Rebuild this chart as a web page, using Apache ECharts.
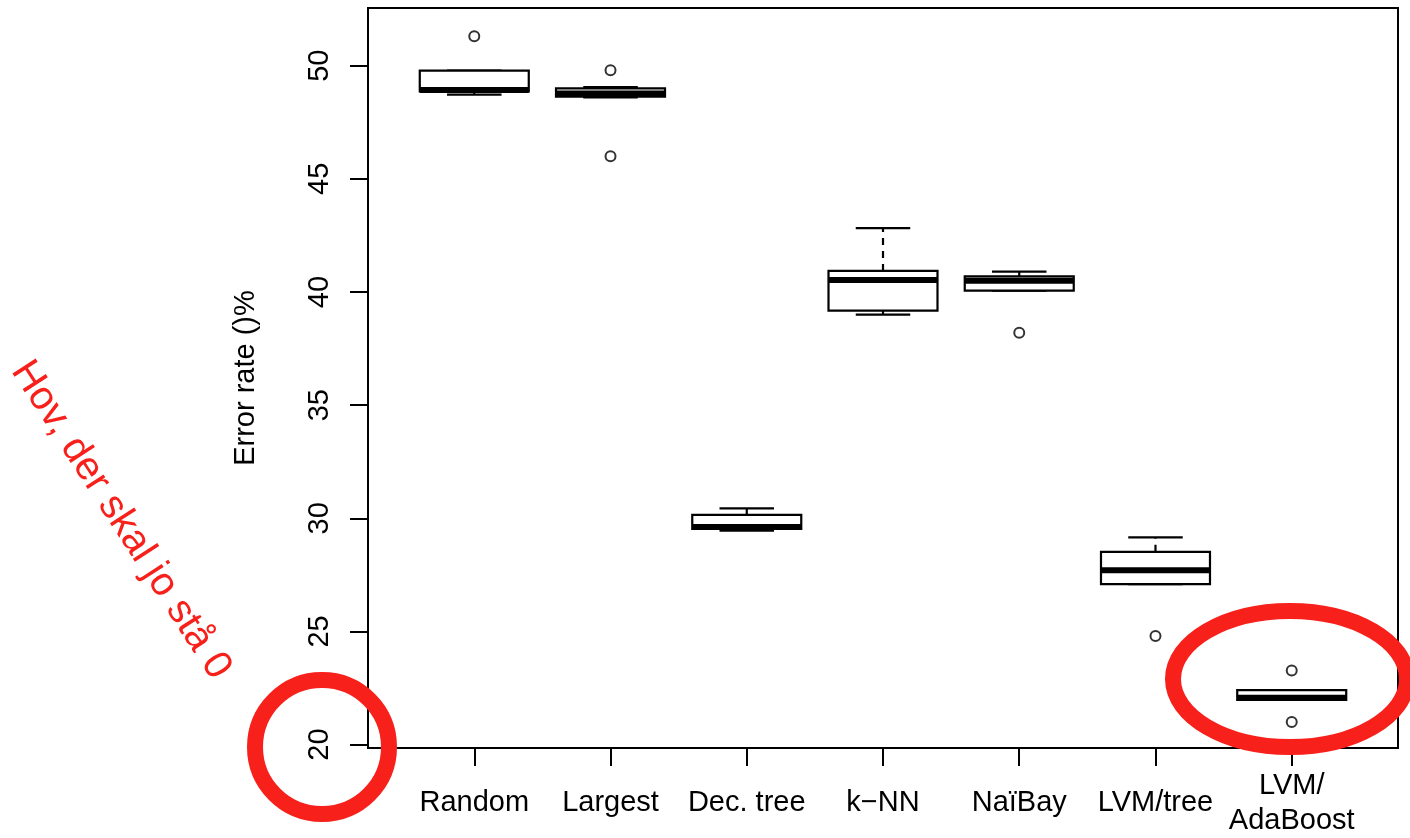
<!DOCTYPE html>
<html>
<head>
<meta charset="utf-8">
<script src="https://cdn.jsdelivr.net/npm/echarts@6/dist/echarts.min.js"></script>
<style>
html,body{margin:0;padding:0;background:#fff;}
#chart{width:1410px;height:838px;}
</style>
</head>
<body>
<div id="chart"></div>
<script>
const categories = ['Random', 'Largest', 'Dec. tree', 'k\u2212NN', 'Na\u00efBay', 'LVM/tree', 'LVM/\nAdaBoost'];
const lowWhisker  = [48.72, 48.60, 29.45, 39.00, 40.06, 27.09, 21.97];
const lowerQuart  = [48.87, 48.63, 29.53, 39.18, 40.06, 27.09, 21.97];
const medians     = [48.93, 48.77, 29.62, 40.53, 40.50, 27.70, 22.07];
const upperQuart  = [49.78, 49.00, 30.15, 40.93, 40.69, 28.52, 22.41];
const highWhisker = [49.78, 49.05, 30.44, 42.82, 40.90, 29.16, 22.41];
const outliers = [[1, 51.3], [2, 49.8], [2, 46.0], [5, 38.2], [6, 24.8], [7, 23.27], [7, 21.0]];
const yTicks = [20, 25, 30, 35, 40, 45, 50];
const xTicks = [1, 2, 3, 4, 5, 6, 7];
const yTitle = 'Error rate ()%';
const note = 'Hov, der skal jo st\u00e5 0';

const boxData = categories.map((c, i) => [i + 1, lowWhisker[i], lowerQuart[i], medians[i], upperQuart[i], highWhisker[i]]);
const BOXW = 0.8;
const FONT = '"Liberation Sans", Arial, Helvetica, sans-serif';
const RED = '#f7201b';

function renderBox(params, api) {
  const x = api.value(0);
  const lo = api.coord([x, api.value(1)]);
  const q1 = api.coord([x, api.value(2)]);
  const md = api.coord([x, api.value(3)]);
  const q3 = api.coord([x, api.value(4)]);
  const hi = api.coord([x, api.value(5)]);
  const bw = api.size([BOXW, 0])[0];
  const cx = lo[0];
  const h = bw / 2, s = bw / 4;
  const ls = {stroke: '#000', lineWidth: 2.2};
  return {
    type: 'group',
    children: [
      {type: 'line', shape: {x1: cx, y1: q3[1], x2: cx, y2: hi[1]}, style: Object.assign({lineDash: [7, 6]}, ls)},
      {type: 'line', shape: {x1: cx, y1: lo[1], x2: cx, y2: q1[1]}, style: Object.assign({lineDash: [7, 6]}, ls)},
      {type: 'line', shape: {x1: cx - s, y1: hi[1], x2: cx + s, y2: hi[1]}, style: ls},
      {type: 'line', shape: {x1: cx - s, y1: lo[1], x2: cx + s, y2: lo[1]}, style: ls},
      {type: 'rect', shape: {x: cx - h, y: q3[1], width: bw, height: q1[1] - q3[1]}, style: {fill: '#fff', stroke: '#000', lineWidth: 2.2}},
      {type: 'line', shape: {x1: cx - h, y1: md[1], x2: cx + h, y2: md[1]}, style: {stroke: '#000', lineWidth: 6}}
    ]
  };
}

const chart = echarts.init(document.getElementById('chart'));
chart.setOption({
  backgroundColor: '#fff',
  animation: false,
  grid: {left: 368, top: 8, width: 1030, height: 742, show: true, borderColor: '#000', borderWidth: 2, backgroundColor: 'transparent'},
  xAxis: {
    type: 'value', min: 0.22, max: 7.78,
    splitLine: {show: false},
    axisLine: {show: false},
    axisTick: {show: true, customValues: xTicks, length: 18, lineStyle: {color: '#000', width: 2}},
    axisLabel: {
      customValues: xTicks, margin: 55, verticalAlign: 'middle',
      color: '#000', fontSize: 29, fontFamily: FONT, lineHeight: 35,
      formatter: v => categories[Math.round(v) - 1] || ''
    }
  },
  yAxis: {
    type: 'value', min: 19.85, max: 52.55,
    splitLine: {show: false},
    axisLine: {show: false},
    axisTick: {show: true, customValues: yTicks, length: 18, lineStyle: {color: '#000', width: 2}},
    axisLabel: {customValues: yTicks, rotate: 90, margin: 34, color: '#000', fontSize: 29, fontFamily: FONT},
    name: yTitle, nameLocation: 'middle', nameRotate: 90, nameGap: 108,
    nameTextStyle: {color: '#000', fontSize: 29, fontFamily: FONT}
  },
  series: [
    {type: 'custom', renderItem: renderBox, data: boxData, clip: false, z: 2},
    {type: 'scatter', data: outliers, symbol: 'circle', symbolSize: 10, z: 3,
     itemStyle: {color: '#fff', borderColor: '#000', borderWidth: 2}}
  ],
  graphic: [
    {type: 'ellipse', z: 100, shape: {cx: 322, cy: 747, rx: 67, ry: 67}, style: {fill: 'none', stroke: RED, lineWidth: 16}},
    {type: 'ellipse', z: 100, shape: {cx: 1290, cy: 679, rx: 117, ry: 68}, style: {fill: 'none', stroke: RED, lineWidth: 16}},
    {type: 'text', z: 100, x: 121, y: 520, rotation: -57 * Math.PI / 180,
     style: {text: note, fill: RED, font: '40px ' + FONT, align: 'center', verticalAlign: 'middle'}}
  ]
});
</script>
</body>
</html>
